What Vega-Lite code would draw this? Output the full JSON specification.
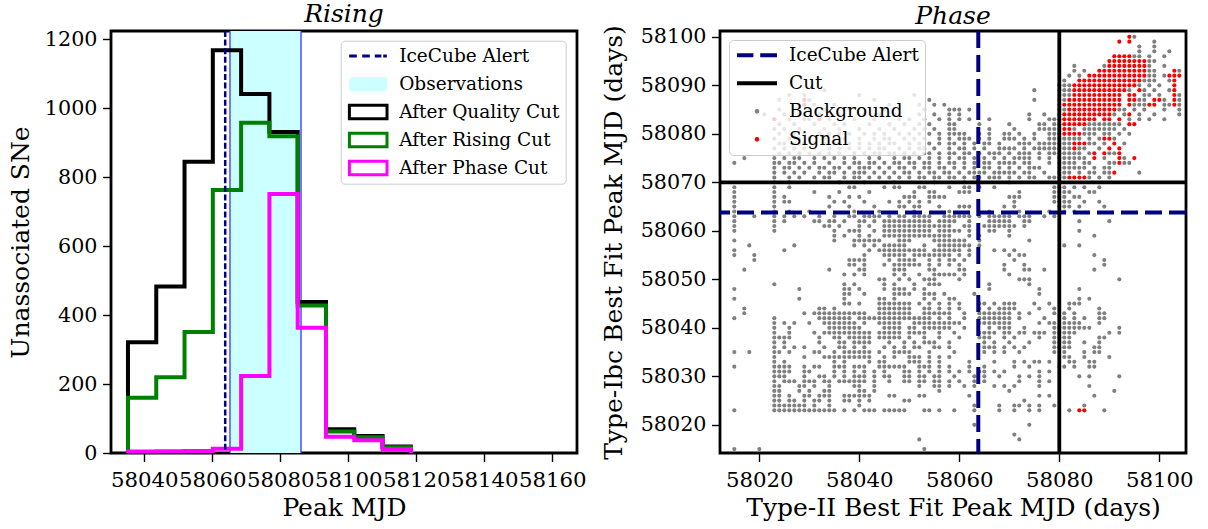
{
"$schema": "https://vega.github.io/schema/vega-lite/v6.json",
"padding": {"left": 7, "top": 0, "right": 0, "bottom": 0},
"bounds": "flush",
"spacing": 143,
"resolve": {"scale": {"color": "independent", "shape": "independent"}, "legend": {"color": "independent", "shape": "independent"}},
"config": {
  "font": "DejaVu Serif",
  "view": {"stroke": "black", "strokeWidth": 2.8},
  "axis": {"grid": false, "domain": false, "tickColor": "black", "tickSize": 8.5, "tickWidth": 1.4, "labelColor": "black", "labelFont": "DejaVu Serif", "labelFontSize": 20.7, "titleFont": "DejaVu Serif", "titleFontSize": 25, "titleFontWeight": "normal", "titleColor": "black", "labelOverlap": false, "labelFlush": false, "labelBound": false},
  "axisX": {"labelPadding": 8, "titlePadding": 5, "labelFontSize": 21.3},
  "axisY": {"labelPadding": 5.5, "titlePadding": 13.5, "labelFontSize": 20.7},
  "title": {"font": "DejaVu Serif", "fontSize": 25, "fontStyle": "italic", "fontWeight": "normal", "color": "black", "anchor": "middle", "frame": "group", "baseline": "alphabetic"},
  "legend": {"orient": "none", "direction": "vertical", "padding": 6, "cornerRadius": 4, "strokeColor": "#cccccc", "fillColor": "rgba(255,255,255,0.8)", "labelFont": "DejaVu Serif", "labelFontSize": 18.5, "labelColor": "black", "symbolSize": 1600, "rowPadding": 9, "symbolOffset": 0, "labelLimit": 400, "clipHeight": 18.5}
},
"datasets": {
  "hq": [{"i":0,"x":58035.2,"n":0},{"i":1,"x":58035.2,"n":321},{"i":2,"x":58043.52,"n":483},{"i":3,"x":58051.84,"n":845},{"i":4,"x":58060.16,"n":1168},{"i":5,"x":58068.48,"n":1041},{"i":6,"x":58076.8,"n":931},{"i":7,"x":58085.12,"n":438},{"i":8,"x":58093.44,"n":69},{"i":9,"x":58101.76,"n":49},{"i":10,"x":58110.08,"n":19},{"i":11,"x":58118.4,"n":19},{"i":12,"x":58118.4,"n":0}],
  "hr": [{"i":0,"x":58035.2,"n":0},{"i":1,"x":58035.2,"n":160},{"i":2,"x":58043.52,"n":220},{"i":3,"x":58051.84,"n":351},{"i":4,"x":58060.16,"n":763},{"i":5,"x":58068.48,"n":958},{"i":6,"x":58076.8,"n":919},{"i":7,"x":58085.12,"n":428},{"i":8,"x":58093.44,"n":62},{"i":9,"x":58101.76,"n":46},{"i":10,"x":58110.08,"n":17},{"i":11,"x":58118.4,"n":17},{"i":12,"x":58118.4,"n":0}],
  "hp": [{"i":0,"x":58035.2,"n":0},{"i":1,"x":58035.2,"n":4},{"i":2,"x":58043.52,"n":5},{"i":3,"x":58051.84,"n":6},{"i":4,"x":58060.16,"n":12},{"i":5,"x":58068.48,"n":223},{"i":6,"x":58076.8,"n":751},{"i":7,"x":58085.12,"n":363},{"i":8,"x":58093.44,"n":47},{"i":9,"x":58101.76,"n":37},{"i":10,"x":58110.08,"n":11},{"i":11,"x":58118.4,"n":11},{"i":12,"x":58118.4,"n":0}],
  "obs": [{"start": 58065.2, "end": 58086.1}],
  "alert": [{"mjd": 58063.8}],
  "cut": [{"x": 58080, "y": 58070}],
  "legL": [{"s":"IceCube Alert","x":null,"y":null},{"s":"Observations","x":null,"y":null},{"s":"After Quality Cut","x":null,"y":null},{"s":"After Rising Cut","x":null,"y":null},{"s":"After Phase Cut","x":null,"y":null}],
  "legR": [{"s":"IceCube Alert","x":null,"y":null},{"s":"Cut","x":null,"y":null},{"s":"Background","x":null,"y":null},{"s":"Signal","x":null,"y":null}],
  "sig": [
{"x":58094,"y":58100},{"x":58092,"y":58099},{"x":58094,"y":58099},
{"x":58091,"y":58096},{"x":58092,"y":58096},{"x":58093,"y":58096},{"x":58094,"y":58096},
{"x":58090,"y":58095},{"x":58091,"y":58095},{"x":58092,"y":58095},{"x":58093,"y":58095},{"x":58094,"y":58095},{"x":58095,"y":58095},{"x":58096,"y":58095},{"x":58097,"y":58095},
{"x":58090,"y":58094},{"x":58091,"y":58094},{"x":58092,"y":58094},{"x":58093,"y":58094},{"x":58094,"y":58094},{"x":58095,"y":58094},{"x":58096,"y":58094},{"x":58097,"y":58094},
{"x":58088,"y":58093},{"x":58089,"y":58093},{"x":58090,"y":58093},{"x":58091,"y":58093},{"x":58092,"y":58093},{"x":58093,"y":58093},{"x":58094,"y":58093},{"x":58095,"y":58093},{"x":58096,"y":58093},{"x":58097,"y":58093},{"x":58103,"y":58093},
{"x":58086,"y":58092},{"x":58087,"y":58092},{"x":58088,"y":58092},{"x":58089,"y":58092},{"x":58090,"y":58092},{"x":58091,"y":58092},{"x":58092,"y":58092},{"x":58093,"y":58092},{"x":58094,"y":58092},{"x":58095,"y":58092},{"x":58096,"y":58092},{"x":58097,"y":58092},{"x":58102,"y":58092},{"x":58103,"y":58092},{"x":58104,"y":58092},
{"x":58084,"y":58091},{"x":58085,"y":58091},{"x":58086,"y":58091},{"x":58087,"y":58091},{"x":58088,"y":58091},{"x":58089,"y":58091},{"x":58090,"y":58091},{"x":58091,"y":58091},{"x":58092,"y":58091},{"x":58093,"y":58091},{"x":58094,"y":58091},{"x":58095,"y":58091},{"x":58096,"y":58091},{"x":58103,"y":58091},
{"x":58083,"y":58090},{"x":58084,"y":58090},{"x":58085,"y":58090},{"x":58086,"y":58090},{"x":58087,"y":58090},{"x":58088,"y":58090},{"x":58089,"y":58090},{"x":58090,"y":58090},{"x":58091,"y":58090},{"x":58092,"y":58090},{"x":58093,"y":58090},{"x":58094,"y":58090},{"x":58095,"y":58090},{"x":58103,"y":58090},
{"x":58083,"y":58089},{"x":58084,"y":58089},{"x":58085,"y":58089},{"x":58086,"y":58089},{"x":58087,"y":58089},{"x":58088,"y":58089},{"x":58089,"y":58089},{"x":58090,"y":58089},{"x":58091,"y":58089},{"x":58092,"y":58089},{"x":58093,"y":58089},{"x":58096,"y":58089},{"x":58103,"y":58089},
{"x":58083,"y":58088},{"x":58084,"y":58088},{"x":58085,"y":58088},{"x":58086,"y":58088},{"x":58087,"y":58088},{"x":58088,"y":58088},{"x":58089,"y":58088},{"x":58090,"y":58088},{"x":58091,"y":58088},{"x":58092,"y":58088},{"x":58094,"y":58088},{"x":58095,"y":58088},{"x":58103,"y":58088},
{"x":58082,"y":58087},{"x":58083,"y":58087},{"x":58084,"y":58087},{"x":58085,"y":58087},{"x":58086,"y":58087},{"x":58087,"y":58087},{"x":58088,"y":58087},{"x":58089,"y":58087},{"x":58090,"y":58087},{"x":58091,"y":58087},{"x":58092,"y":58087},{"x":58094,"y":58087},{"x":58095,"y":58087},{"x":58099,"y":58087},{"x":58100,"y":58087},{"x":58103,"y":58087},
{"x":58081,"y":58086},{"x":58082,"y":58086},{"x":58083,"y":58086},{"x":58084,"y":58086},{"x":58085,"y":58086},{"x":58086,"y":58086},{"x":58087,"y":58086},{"x":58088,"y":58086},{"x":58089,"y":58086},{"x":58090,"y":58086},{"x":58091,"y":58086},{"x":58092,"y":58086},{"x":58094,"y":58086},{"x":58098,"y":58086},{"x":58099,"y":58086},{"x":58103,"y":58086},
{"x":58082,"y":58085},{"x":58083,"y":58085},{"x":58084,"y":58085},{"x":58085,"y":58085},{"x":58086,"y":58085},{"x":58087,"y":58085},{"x":58088,"y":58085},{"x":58089,"y":58085},{"x":58090,"y":58085},{"x":58091,"y":58085},
{"x":58081,"y":58084},{"x":58082,"y":58084},{"x":58083,"y":58084},{"x":58084,"y":58084},{"x":58085,"y":58084},{"x":58086,"y":58084},{"x":58087,"y":58084},{"x":58088,"y":58084},{"x":58089,"y":58084},{"x":58090,"y":58084},{"x":58094,"y":58084},
{"x":58081,"y":58083},{"x":58082,"y":58083},{"x":58083,"y":58083},{"x":58084,"y":58083},{"x":58085,"y":58083},{"x":58086,"y":58083},{"x":58087,"y":58083},{"x":58089,"y":58083},{"x":58090,"y":58083},{"x":58092,"y":58083},
{"x":58081,"y":58082},{"x":58082,"y":58082},{"x":58083,"y":58082},{"x":58084,"y":58082},{"x":58085,"y":58082},{"x":58094,"y":58082},{"x":58095,"y":58082},
{"x":58081,"y":58081},{"x":58082,"y":58081},
{"x":58081,"y":58080},{"x":58082,"y":58080},{"x":58083,"y":58080},{"x":58084,"y":58080},
{"x":58089,"y":58079},{"x":58090,"y":58079},
{"x":58083,"y":58078},{"x":58084,"y":58078},{"x":58085,"y":58078},{"x":58091,"y":58078},
{"x":58083,"y":58077},{"x":58090,"y":58077},{"x":58092,"y":58077},
{"x":58087,"y":58076},{"x":58089,"y":58076},{"x":58092,"y":58076},
{"x":58087,"y":58075},{"x":58092,"y":58075},{"x":58095,"y":58075},
{"x":58092,"y":58074},{"x":58091,"y":58072},
{"x":58082,"y":58071},{"x":58083,"y":58071},{"x":58084,"y":58071},{"x":58085,"y":58071},
{"x":58084,"y":58023},{"x":58085,"y":58023},
{"x":58029,"y":58087},{"x":58029,"y":58086},{"x":58023,"y":58083},{"x":58032,"y":58083},{"x":58029,"y":58078}
  ],
  "bg": [
{"x":58095,"y":58100},{"x":58099,"y":58099},{"x":58096,"y":58098},{"x":58099,"y":58098},
{"x":58096,"y":58097},{"x":58099,"y":58097},{"x":58102,"y":58097},
{"x":58095,"y":58096},{"x":58096,"y":58096},{"x":58098,"y":58096},{"x":58101,"y":58096},
{"x":58098,"y":58095},{"x":58099,"y":58095},
{"x":58083,"y":58094},{"x":58089,"y":58094},{"x":58098,"y":58094},{"x":58101,"y":58094},
{"x":58083,"y":58093},{"x":58085,"y":58093},{"x":58098,"y":58093},{"x":58099,"y":58093},{"x":58104,"y":58093},
{"x":58082,"y":58092},{"x":58084,"y":58092},{"x":58098,"y":58092},{"x":58099,"y":58092},{"x":58101,"y":58092},
{"x":58081,"y":58091},{"x":58097,"y":58091},{"x":58098,"y":58091},{"x":58099,"y":58091},{"x":58102,"y":58091},
{"x":58080,"y":58090},{"x":58081,"y":58090},{"x":58082,"y":58090},{"x":58096,"y":58090},{"x":58098,"y":58090},{"x":58100,"y":58090},
{"x":58033,"y":58089},{"x":58075,"y":58089},{"x":58080,"y":58089},{"x":58081,"y":58089},{"x":58082,"y":58089},{"x":58094,"y":58089},{"x":58097,"y":58089},{"x":58099,"y":58089},{"x":58102,"y":58089},
{"x":58026,"y":58088},{"x":58029,"y":58088},{"x":58040,"y":58088},{"x":58051,"y":58088},{"x":58080,"y":58088},{"x":58081,"y":58088},{"x":58082,"y":58088},{"x":58097,"y":58088},{"x":58098,"y":58088},{"x":58100,"y":58088},{"x":58104,"y":58088},
{"x":58024,"y":58087},{"x":58030,"y":58087},{"x":58043,"y":58087},{"x":58054,"y":58087},{"x":58075,"y":58087},{"x":58080,"y":58087},{"x":58081,"y":58087},{"x":58096,"y":58087},{"x":58097,"y":58087},{"x":58101,"y":58087},{"x":58104,"y":58087},
{"x":58029,"y":58086},{"x":58031,"y":58086},{"x":58035,"y":58086},{"x":58046,"y":58086},{"x":58052,"y":58086},{"x":58055,"y":58086},{"x":58057,"y":58086},{"x":58080,"y":58086},{"x":58095,"y":58086},{"x":58096,"y":58086},{"x":58097,"y":58086},{"x":58101,"y":58086},{"x":58102,"y":58086},{"x":58104,"y":58086},
{"x":58024,"y":58085},{"x":58027,"y":58085},{"x":58030,"y":58085},{"x":58033,"y":58085},{"x":58038,"y":58085},{"x":58045,"y":58085},{"x":58053,"y":58085},{"x":58058,"y":58085},{"x":58059,"y":58085},{"x":58060,"y":58085},{"x":58062,"y":58085},{"x":58080,"y":58085},{"x":58081,"y":58085},{"x":58092,"y":58085},{"x":58093,"y":58085},{"x":58095,"y":58085},{"x":58097,"y":58085},{"x":58101,"y":58085},{"x":58104,"y":58085},
{"x":58021,"y":58084},{"x":58025,"y":58084},{"x":58028,"y":58084},{"x":58032,"y":58084},{"x":58036,"y":58084},{"x":58041,"y":58084},{"x":58044,"y":58084},{"x":58047,"y":58084},{"x":58052,"y":58084},{"x":58055,"y":58084},{"x":58058,"y":58084},{"x":58060,"y":58084},{"x":58074,"y":58084},{"x":58077,"y":58084},{"x":58080,"y":58084},{"x":58091,"y":58084},{"x":58093,"y":58084},{"x":58096,"y":58084},{"x":58099,"y":58084},{"x":58104,"y":58084},
{"x":58023,"y":58083},{"x":58026,"y":58083},{"x":58029,"y":58083},{"x":58030,"y":58083},{"x":58034,"y":58083},{"x":58039,"y":58083},{"x":58043,"y":58083},{"x":58048,"y":58083},{"x":58050,"y":58083},{"x":58053,"y":58083},{"x":58056,"y":58083},{"x":58058,"y":58083},{"x":58060,"y":58083},{"x":58062,"y":58083},{"x":58066,"y":58083},{"x":58074,"y":58083},{"x":58078,"y":58083},{"x":58079,"y":58083},{"x":58080,"y":58083},{"x":58094,"y":58083},{"x":58096,"y":58083},{"x":58098,"y":58083},{"x":58101,"y":58083},
{"x":58024,"y":58082},{"x":58027,"y":58082},{"x":58031,"y":58082},{"x":58035,"y":58082},{"x":58037,"y":58082},{"x":58042,"y":58082},{"x":58046,"y":58082},{"x":58049,"y":58082},{"x":58052,"y":58082},{"x":58054,"y":58082},{"x":58058,"y":58082},{"x":58059,"y":58082},{"x":58064,"y":58082},{"x":58070,"y":58082},{"x":58076,"y":58082},{"x":58077,"y":58082},{"x":58079,"y":58082},{"x":58080,"y":58082},{"x":58086,"y":58082},{"x":58087,"y":58082},{"x":58088,"y":58082},{"x":58089,"y":58082},{"x":58090,"y":58082},{"x":58091,"y":58082},{"x":58092,"y":58082},
{"x":58023,"y":58081},{"x":58025,"y":58081},{"x":58028,"y":58081},{"x":58033,"y":58081},{"x":58036,"y":58081},{"x":58040,"y":58081},{"x":58044,"y":58081},{"x":58047,"y":58081},{"x":58051,"y":58081},{"x":58053,"y":58081},{"x":58055,"y":58081},{"x":58058,"y":58081},{"x":58059,"y":58081},{"x":58066,"y":58081},{"x":58071,"y":58081},{"x":58076,"y":58081},{"x":58077,"y":58081},{"x":58078,"y":58081},{"x":58079,"y":58081},{"x":58080,"y":58081},{"x":58083,"y":58081},{"x":58085,"y":58081},{"x":58086,"y":58081},{"x":58087,"y":58081},{"x":58088,"y":58081},{"x":58089,"y":58081},{"x":58090,"y":58081},{"x":58091,"y":58081},{"x":58093,"y":58081},
{"x":58024,"y":58080},{"x":58027,"y":58080},{"x":58029,"y":58080},{"x":58032,"y":58080},{"x":58034,"y":58080},{"x":58036,"y":58080},{"x":58038,"y":58080},{"x":58041,"y":58080},{"x":58043,"y":58080},{"x":58045,"y":58080},{"x":58048,"y":58080},{"x":58050,"y":58080},{"x":58052,"y":58080},{"x":58054,"y":58080},{"x":58056,"y":58080},{"x":58058,"y":58080},{"x":58059,"y":58080},{"x":58060,"y":58080},{"x":58061,"y":58080},{"x":58064,"y":58080},{"x":58066,"y":58080},{"x":58069,"y":58080},{"x":58070,"y":58080},{"x":58072,"y":58080},{"x":58075,"y":58080},{"x":58078,"y":58080},{"x":58079,"y":58080},{"x":58080,"y":58080},{"x":58085,"y":58080},{"x":58086,"y":58080},{"x":58087,"y":58080},{"x":58089,"y":58080},{"x":58090,"y":58080},{"x":58092,"y":58080},{"x":58094,"y":58080},
{"x":58023,"y":58079},{"x":58026,"y":58079},{"x":58028,"y":58079},{"x":58030,"y":58079},{"x":58033,"y":58079},{"x":58035,"y":58079},{"x":58037,"y":58079},{"x":58040,"y":58079},{"x":58043,"y":58079},{"x":58045,"y":58079},{"x":58046,"y":58079},{"x":58049,"y":58079},{"x":58051,"y":58079},{"x":58053,"y":58079},{"x":58056,"y":58079},{"x":58058,"y":58079},{"x":58060,"y":58079},{"x":58061,"y":58079},{"x":58062,"y":58079},{"x":58064,"y":58079},{"x":58066,"y":58079},{"x":58069,"y":58079},{"x":58070,"y":58079},{"x":58071,"y":58079},{"x":58073,"y":58079},{"x":58075,"y":58079},{"x":58078,"y":58079},{"x":58079,"y":58079},{"x":58080,"y":58079},{"x":58081,"y":58079},{"x":58082,"y":58079},{"x":58083,"y":58079},{"x":58084,"y":58079},{"x":58086,"y":58079},{"x":58088,"y":58079},{"x":58091,"y":58079},
{"x":58024,"y":58078},{"x":58025,"y":58078},{"x":58027,"y":58078},{"x":58028,"y":58078},{"x":58031,"y":58078},{"x":58033,"y":58078},{"x":58035,"y":58078},{"x":58036,"y":58078},{"x":58038,"y":58078},{"x":58040,"y":58078},{"x":58042,"y":58078},{"x":58044,"y":58078},{"x":58046,"y":58078},{"x":58047,"y":58078},{"x":58050,"y":58078},{"x":58052,"y":58078},{"x":58054,"y":58078},{"x":58056,"y":58078},{"x":58058,"y":58078},{"x":58059,"y":58078},{"x":58061,"y":58078},{"x":58063,"y":58078},{"x":58065,"y":58078},{"x":58066,"y":58078},{"x":58068,"y":58078},{"x":58072,"y":58078},{"x":58073,"y":58078},{"x":58074,"y":58078},{"x":58076,"y":58078},{"x":58077,"y":58078},{"x":58078,"y":58078},{"x":58079,"y":58078},{"x":58080,"y":58078},{"x":58081,"y":58078},{"x":58082,"y":58078},{"x":58086,"y":58078},{"x":58087,"y":58078},{"x":58089,"y":58078},{"x":58093,"y":58078},
{"x":58023,"y":58077},{"x":58025,"y":58077},{"x":58027,"y":58077},{"x":58029,"y":58077},{"x":58031,"y":58077},{"x":58034,"y":58077},{"x":58036,"y":58077},{"x":58038,"y":58077},{"x":58040,"y":58077},{"x":58042,"y":58077},{"x":58044,"y":58077},{"x":58045,"y":58077},{"x":58048,"y":58077},{"x":58050,"y":58077},{"x":58052,"y":58077},{"x":58053,"y":58077},{"x":58055,"y":58077},{"x":58058,"y":58077},{"x":58060,"y":58077},{"x":58061,"y":58077},{"x":58063,"y":58077},{"x":58065,"y":58077},{"x":58068,"y":58077},{"x":58069,"y":58077},{"x":58070,"y":58077},{"x":58071,"y":58077},{"x":58073,"y":58077},{"x":58075,"y":58077},{"x":58076,"y":58077},{"x":58077,"y":58077},{"x":58078,"y":58077},{"x":58079,"y":58077},{"x":58080,"y":58077},{"x":58081,"y":58077},{"x":58082,"y":58077},{"x":58084,"y":58077},{"x":58085,"y":58077},{"x":58088,"y":58077},
{"x":58024,"y":58076},{"x":58026,"y":58076},{"x":58028,"y":58076},{"x":58030,"y":58076},{"x":58032,"y":58076},{"x":58034,"y":58076},{"x":58036,"y":58076},{"x":58039,"y":58076},{"x":58041,"y":58076},{"x":58043,"y":58076},{"x":58044,"y":58076},{"x":58046,"y":58076},{"x":58047,"y":58076},{"x":58049,"y":58076},{"x":58051,"y":58076},{"x":58053,"y":58076},{"x":58054,"y":58076},{"x":58056,"y":58076},{"x":58058,"y":58076},{"x":58059,"y":58076},{"x":58061,"y":58076},{"x":58062,"y":58076},{"x":58064,"y":58076},{"x":58066,"y":58076},{"x":58067,"y":58076},{"x":58068,"y":58076},{"x":58070,"y":58076},{"x":58072,"y":58076},{"x":58073,"y":58076},{"x":58074,"y":58076},{"x":58076,"y":58076},{"x":58078,"y":58076},{"x":58079,"y":58076},{"x":58080,"y":58076},{"x":58081,"y":58076},{"x":58082,"y":58076},{"x":58083,"y":58076},{"x":58084,"y":58076},{"x":58086,"y":58076},{"x":58090,"y":58076},{"x":58091,"y":58076},
{"x":58017,"y":58075},{"x":58023,"y":58075},{"x":58025,"y":58075},{"x":58027,"y":58075},{"x":58028,"y":58075},{"x":58031,"y":58075},{"x":58033,"y":58075},{"x":58035,"y":58075},{"x":58037,"y":58075},{"x":58039,"y":58075},{"x":58042,"y":58075},{"x":58044,"y":58075},{"x":58047,"y":58075},{"x":58049,"y":58075},{"x":58050,"y":58075},{"x":58052,"y":58075},{"x":58054,"y":58075},{"x":58056,"y":58075},{"x":58058,"y":58075},{"x":58060,"y":58075},{"x":58061,"y":58075},{"x":58063,"y":58075},{"x":58065,"y":58075},{"x":58067,"y":58075},{"x":58069,"y":58075},{"x":58071,"y":58075},{"x":58072,"y":58075},{"x":58073,"y":58075},{"x":58074,"y":58075},{"x":58076,"y":58075},{"x":58078,"y":58075},{"x":58080,"y":58075},{"x":58081,"y":58075},{"x":58082,"y":58075},{"x":58083,"y":58075},{"x":58084,"y":58075},{"x":58085,"y":58075},{"x":58089,"y":58075},{"x":58093,"y":58075},
{"x":58015,"y":58074},{"x":58023,"y":58074},{"x":58024,"y":58074},{"x":58026,"y":58074},{"x":58027,"y":58074},{"x":58029,"y":58074},{"x":58031,"y":58074},{"x":58034,"y":58074},{"x":58037,"y":58074},{"x":58039,"y":58074},{"x":58040,"y":58074},{"x":58042,"y":58074},{"x":58043,"y":58074},{"x":58045,"y":58074},{"x":58047,"y":58074},{"x":58048,"y":58074},{"x":58050,"y":58074},{"x":58051,"y":58074},{"x":58053,"y":58074},{"x":58054,"y":58074},{"x":58056,"y":58074},{"x":58058,"y":58074},{"x":58059,"y":58074},{"x":58061,"y":58074},{"x":58063,"y":58074},{"x":58065,"y":58074},{"x":58066,"y":58074},{"x":58068,"y":58074},{"x":58069,"y":58074},{"x":58070,"y":58074},{"x":58071,"y":58074},{"x":58073,"y":58074},{"x":58074,"y":58074},{"x":58078,"y":58074},{"x":58080,"y":58074},{"x":58081,"y":58074},{"x":58082,"y":58074},{"x":58083,"y":58074},{"x":58085,"y":58074},{"x":58086,"y":58074},{"x":58090,"y":58074},{"x":58091,"y":58074},{"x":58093,"y":58074},{"x":58094,"y":58074},
{"x":58023,"y":58073},{"x":58025,"y":58073},{"x":58026,"y":58073},{"x":58028,"y":58073},{"x":58030,"y":58073},{"x":58032,"y":58073},{"x":58033,"y":58073},{"x":58035,"y":58073},{"x":58036,"y":58073},{"x":58038,"y":58073},{"x":58040,"y":58073},{"x":58041,"y":58073},{"x":58042,"y":58073},{"x":58044,"y":58073},{"x":58046,"y":58073},{"x":58048,"y":58073},{"x":58049,"y":58073},{"x":58051,"y":58073},{"x":58053,"y":58073},{"x":58054,"y":58073},{"x":58056,"y":58073},{"x":58057,"y":58073},{"x":58059,"y":58073},{"x":58061,"y":58073},{"x":58063,"y":58073},{"x":58065,"y":58073},{"x":58066,"y":58073},{"x":58068,"y":58073},{"x":58070,"y":58073},{"x":58072,"y":58073},{"x":58074,"y":58073},{"x":58075,"y":58073},{"x":58076,"y":58073},{"x":58080,"y":58073},{"x":58081,"y":58073},{"x":58082,"y":58073},{"x":58083,"y":58073},{"x":58084,"y":58073},{"x":58085,"y":58073},{"x":58087,"y":58073},{"x":58089,"y":58073},{"x":58090,"y":58073},
{"x":58023,"y":58072},{"x":58025,"y":58072},{"x":58027,"y":58072},{"x":58029,"y":58072},{"x":58032,"y":58072},{"x":58034,"y":58072},{"x":58035,"y":58072},{"x":58037,"y":58072},{"x":58039,"y":58072},{"x":58040,"y":58072},{"x":58041,"y":58072},{"x":58043,"y":58072},{"x":58045,"y":58072},{"x":58047,"y":58072},{"x":58049,"y":58072},{"x":58050,"y":58072},{"x":58052,"y":58072},{"x":58054,"y":58072},{"x":58055,"y":58072},{"x":58057,"y":58072},{"x":58058,"y":58072},{"x":58060,"y":58072},{"x":58062,"y":58072},{"x":58063,"y":58072},{"x":58064,"y":58072},{"x":58065,"y":58072},{"x":58067,"y":58072},{"x":58068,"y":58072},{"x":58069,"y":58072},{"x":58070,"y":58072},{"x":58071,"y":58072},{"x":58073,"y":58072},{"x":58074,"y":58072},{"x":58077,"y":58072},{"x":58080,"y":58072},{"x":58081,"y":58072},{"x":58082,"y":58072},{"x":58084,"y":58072},{"x":58086,"y":58072},{"x":58087,"y":58072},{"x":58089,"y":58072},{"x":58090,"y":58072},{"x":58096,"y":58072},
{"x":58023,"y":58071},{"x":58026,"y":58071},{"x":58028,"y":58071},{"x":58031,"y":58071},{"x":58033,"y":58071},{"x":58034,"y":58071},{"x":58037,"y":58071},{"x":58039,"y":58071},{"x":58040,"y":58071},{"x":58042,"y":58071},{"x":58044,"y":58071},{"x":58046,"y":58071},{"x":58048,"y":58071},{"x":58050,"y":58071},{"x":58052,"y":58071},{"x":58053,"y":58071},{"x":58055,"y":58071},{"x":58056,"y":58071},{"x":58058,"y":58071},{"x":58059,"y":58071},{"x":58061,"y":58071},{"x":58063,"y":58071},{"x":58064,"y":58071},{"x":58066,"y":58071},{"x":58067,"y":58071},{"x":58068,"y":58071},{"x":58070,"y":58071},{"x":58072,"y":58071},{"x":58074,"y":58071},{"x":58075,"y":58071},{"x":58078,"y":58071},{"x":58079,"y":58071},{"x":58080,"y":58071},{"x":58081,"y":58071},{"x":58086,"y":58071},{"x":58088,"y":58071},{"x":58090,"y":58071},
{"x":58023,"y":58070},{"x":58026,"y":58070},{"x":58036,"y":58070},{"x":58041,"y":58070},{"x":58047,"y":58070},{"x":58055,"y":58070},{"x":58061,"y":58070},{"x":58070,"y":58070},
{"x":58015,"y":58069},{"x":58023,"y":58069},{"x":58026,"y":58069},{"x":58038,"y":58069},{"x":58039,"y":58069},{"x":58045,"y":58069},{"x":58047,"y":58069},{"x":58048,"y":58069},{"x":58052,"y":58069},{"x":58053,"y":58069},{"x":58058,"y":58069},{"x":58061,"y":58069},{"x":58062,"y":58069},{"x":58064,"y":58069},{"x":58067,"y":58069},{"x":58079,"y":58069},{"x":58080,"y":58069},{"x":58081,"y":58069},{"x":58083,"y":58069},{"x":58085,"y":58069},{"x":58088,"y":58069},
{"x":58015,"y":58068},{"x":58023,"y":58068},{"x":58031,"y":58068},{"x":58036,"y":58068},{"x":58042,"y":58068},{"x":58051,"y":58068},{"x":58054,"y":58068},{"x":58055,"y":58068},{"x":58060,"y":58068},{"x":58061,"y":58068},{"x":58062,"y":58068},{"x":58072,"y":58068},{"x":58079,"y":58068},{"x":58080,"y":58068},{"x":58081,"y":58068},{"x":58082,"y":58068},{"x":58086,"y":58068},{"x":58087,"y":58068},
{"x":58015,"y":58067},{"x":58023,"y":58067},{"x":58025,"y":58067},{"x":58034,"y":58067},{"x":58038,"y":58067},{"x":58040,"y":58067},{"x":58049,"y":58067},{"x":58050,"y":58067},{"x":58051,"y":58067},{"x":58054,"y":58067},{"x":58055,"y":58067},{"x":58056,"y":58067},{"x":58057,"y":58067},{"x":58070,"y":58067},{"x":58071,"y":58067},{"x":58072,"y":58067},{"x":58079,"y":58067},{"x":58080,"y":58067},{"x":58081,"y":58067},{"x":58083,"y":58067},{"x":58084,"y":58067},
{"x":58015,"y":58066},{"x":58023,"y":58066},{"x":58025,"y":58066},{"x":58026,"y":58066},{"x":58035,"y":58066},{"x":58037,"y":58066},{"x":58041,"y":58066},{"x":58046,"y":58066},{"x":58048,"y":58066},{"x":58050,"y":58066},{"x":58052,"y":58066},{"x":58054,"y":58066},{"x":58071,"y":58066},{"x":58079,"y":58066},{"x":58080,"y":58066},{"x":58081,"y":58066},{"x":58082,"y":58066},{"x":58085,"y":58066},{"x":58088,"y":58066},
{"x":58015,"y":58065},{"x":58023,"y":58065},{"x":58034,"y":58065},{"x":58038,"y":58065},{"x":58043,"y":58065},{"x":58048,"y":58065},{"x":58049,"y":58065},{"x":58051,"y":58065},{"x":58052,"y":58065},{"x":58056,"y":58065},{"x":58060,"y":58065},{"x":58061,"y":58065},{"x":58062,"y":58065},{"x":58069,"y":58065},{"x":58071,"y":58065},{"x":58080,"y":58065},{"x":58081,"y":58065},{"x":58082,"y":58065},{"x":58084,"y":58065},{"x":58089,"y":58065},
{"x":58015,"y":58064},{"x":58023,"y":58064},{"x":58026,"y":58064},{"x":58030,"y":58064},{"x":58039,"y":58064},{"x":58044,"y":58064},{"x":58051,"y":58064},{"x":58058,"y":58064},{"x":58066,"y":58064},{"x":58072,"y":58064},{"x":58078,"y":58064},{"x":58081,"y":58064},{"x":58083,"y":58064},
{"x":58015,"y":58063},{"x":58019,"y":58063},{"x":58023,"y":58063},{"x":58025,"y":58063},{"x":58027,"y":58063},{"x":58029,"y":58063},{"x":58032,"y":58063},{"x":58035,"y":58063},{"x":58038,"y":58063},{"x":58039,"y":58063},{"x":58041,"y":58063},{"x":58042,"y":58063},{"x":58043,"y":58063},{"x":58044,"y":58063},{"x":58046,"y":58063},{"x":58048,"y":58063},{"x":58049,"y":58063},{"x":58051,"y":58063},{"x":58052,"y":58063},{"x":58053,"y":58063},{"x":58054,"y":58063},{"x":58057,"y":58063},{"x":58058,"y":58063},{"x":58059,"y":58063},{"x":58060,"y":58063},{"x":58061,"y":58063},{"x":58062,"y":58063},{"x":58064,"y":58063},{"x":58066,"y":58063},{"x":58067,"y":58063},{"x":58068,"y":58063},{"x":58069,"y":58063},{"x":58070,"y":58063},{"x":58072,"y":58063},{"x":58073,"y":58063},{"x":58074,"y":58063},{"x":58077,"y":58063},{"x":58079,"y":58063},
{"x":58015,"y":58062},{"x":58023,"y":58062},{"x":58025,"y":58062},{"x":58031,"y":58062},{"x":58032,"y":58062},{"x":58034,"y":58062},{"x":58035,"y":58062},{"x":58037,"y":58062},{"x":58040,"y":58062},{"x":58041,"y":58062},{"x":58043,"y":58062},{"x":58045,"y":58062},{"x":58046,"y":58062},{"x":58047,"y":58062},{"x":58048,"y":58062},{"x":58049,"y":58062},{"x":58050,"y":58062},{"x":58051,"y":58062},{"x":58052,"y":58062},{"x":58053,"y":58062},{"x":58054,"y":58062},{"x":58056,"y":58062},{"x":58057,"y":58062},{"x":58058,"y":58062},{"x":58059,"y":58062},{"x":58062,"y":58062},{"x":58066,"y":58062},{"x":58067,"y":58062},{"x":58068,"y":58062},{"x":58069,"y":58062},{"x":58070,"y":58062},{"x":58073,"y":58062},{"x":58074,"y":58062},{"x":58084,"y":58062},{"x":58090,"y":58062},
{"x":58015,"y":58061},{"x":58023,"y":58061},{"x":58033,"y":58061},{"x":58034,"y":58061},{"x":58036,"y":58061},{"x":58040,"y":58061},{"x":58042,"y":58061},{"x":58045,"y":58061},{"x":58046,"y":58061},{"x":58047,"y":58061},{"x":58048,"y":58061},{"x":58049,"y":58061},{"x":58050,"y":58061},{"x":58051,"y":58061},{"x":58052,"y":58061},{"x":58053,"y":58061},{"x":58054,"y":58061},{"x":58055,"y":58061},{"x":58056,"y":58061},{"x":58057,"y":58061},{"x":58058,"y":58061},{"x":58061,"y":58061},{"x":58062,"y":58061},{"x":58065,"y":58061},{"x":58066,"y":58061},{"x":58067,"y":58061},{"x":58068,"y":58061},{"x":58069,"y":58061},{"x":58070,"y":58061},{"x":58071,"y":58061},{"x":58073,"y":58061},
{"x":58015,"y":58060},{"x":58023,"y":58060},{"x":58035,"y":58060},{"x":58038,"y":58060},{"x":58039,"y":58060},{"x":58040,"y":58060},{"x":58043,"y":58060},{"x":58045,"y":58060},{"x":58046,"y":58060},{"x":58047,"y":58060},{"x":58048,"y":58060},{"x":58049,"y":58060},{"x":58050,"y":58060},{"x":58051,"y":58060},{"x":58052,"y":58060},{"x":58053,"y":58060},{"x":58054,"y":58060},{"x":58056,"y":58060},{"x":58057,"y":58060},{"x":58058,"y":58060},{"x":58059,"y":58060},{"x":58060,"y":58060},{"x":58062,"y":58060},{"x":58066,"y":58060},{"x":58067,"y":58060},{"x":58070,"y":58060},{"x":58084,"y":58060},
{"x":58035,"y":58059},{"x":58037,"y":58059},{"x":58040,"y":58059},{"x":58042,"y":58059},{"x":58045,"y":58059},{"x":58046,"y":58059},{"x":58047,"y":58059},{"x":58048,"y":58059},{"x":58049,"y":58059},{"x":58050,"y":58059},{"x":58051,"y":58059},{"x":58052,"y":58059},{"x":58053,"y":58059},{"x":58054,"y":58059},{"x":58055,"y":58059},{"x":58056,"y":58059},{"x":58057,"y":58059},{"x":58058,"y":58059},{"x":58062,"y":58059},{"x":58064,"y":58059},{"x":58070,"y":58059},{"x":58087,"y":58059},
{"x":58015,"y":58058},{"x":58035,"y":58058},{"x":58039,"y":58058},{"x":58040,"y":58058},{"x":58041,"y":58058},{"x":58042,"y":58058},{"x":58043,"y":58058},{"x":58044,"y":58058},{"x":58048,"y":58058},{"x":58049,"y":58058},{"x":58050,"y":58058},{"x":58055,"y":58058},{"x":58056,"y":58058},{"x":58057,"y":58058},{"x":58058,"y":58058},{"x":58059,"y":58058},{"x":58060,"y":58058},{"x":58061,"y":58058},{"x":58064,"y":58058},{"x":58074,"y":58058},
{"x":58018,"y":58057},{"x":58027,"y":58057},{"x":58039,"y":58057},{"x":58041,"y":58057},{"x":58043,"y":58057},{"x":58045,"y":58057},{"x":58046,"y":58057},{"x":58047,"y":58057},{"x":58048,"y":58057},{"x":58049,"y":58057},{"x":58053,"y":58057},{"x":58056,"y":58057},{"x":58057,"y":58057},{"x":58058,"y":58057},{"x":58059,"y":58057},{"x":58060,"y":58057},{"x":58061,"y":58057},{"x":58062,"y":58057},{"x":58064,"y":58057},{"x":58081,"y":58057},{"x":58084,"y":58057},
{"x":58015,"y":58056},{"x":58025,"y":58056},{"x":58042,"y":58056},{"x":58044,"y":58056},{"x":58045,"y":58056},{"x":58046,"y":58056},{"x":58047,"y":58056},{"x":58048,"y":58056},{"x":58049,"y":58056},{"x":58050,"y":58056},{"x":58051,"y":58056},{"x":58052,"y":58056},{"x":58053,"y":58056},{"x":58055,"y":58056},{"x":58056,"y":58056},{"x":58057,"y":58056},{"x":58058,"y":58056},{"x":58059,"y":58056},{"x":58060,"y":58056},{"x":58062,"y":58056},{"x":58067,"y":58056},{"x":58069,"y":58056},{"x":58071,"y":58056},
{"x":58015,"y":58055},{"x":58019,"y":58055},{"x":58041,"y":58055},{"x":58045,"y":58055},{"x":58046,"y":58055},{"x":58047,"y":58055},{"x":58048,"y":58055},{"x":58049,"y":58055},{"x":58051,"y":58055},{"x":58052,"y":58055},{"x":58053,"y":58055},{"x":58054,"y":58055},{"x":58055,"y":58055},{"x":58056,"y":58055},{"x":58057,"y":58055},{"x":58058,"y":58055},{"x":58060,"y":58055},{"x":58062,"y":58055},{"x":58070,"y":58055},{"x":58072,"y":58055},{"x":58073,"y":58055},{"x":58087,"y":58055},
{"x":58019,"y":58054},{"x":58038,"y":58054},{"x":58039,"y":58054},{"x":58040,"y":58054},{"x":58041,"y":58054},{"x":58046,"y":58054},{"x":58048,"y":58054},{"x":58049,"y":58054},{"x":58050,"y":58054},{"x":58051,"y":58054},{"x":58054,"y":58054},{"x":58056,"y":58054},{"x":58058,"y":58054},{"x":58059,"y":58054},{"x":58061,"y":58054},{"x":58071,"y":58054},{"x":58089,"y":58054},
{"x":58038,"y":58053},{"x":58039,"y":58053},{"x":58041,"y":58053},{"x":58045,"y":58053},{"x":58047,"y":58053},{"x":58048,"y":58053},{"x":58049,"y":58053},{"x":58050,"y":58053},{"x":58051,"y":58053},{"x":58052,"y":58053},{"x":58054,"y":58053},{"x":58056,"y":58053},{"x":58058,"y":58053},{"x":58060,"y":58053},{"x":58069,"y":58053},{"x":58073,"y":58053},{"x":58089,"y":58053},
{"x":58017,"y":58052},{"x":58034,"y":58052},{"x":58040,"y":58052},{"x":58041,"y":58052},{"x":58047,"y":58052},{"x":58048,"y":58052},{"x":58049,"y":58052},{"x":58054,"y":58052},{"x":58055,"y":58052},{"x":58060,"y":58052},{"x":58061,"y":58052},{"x":58069,"y":58052},{"x":58073,"y":58052},{"x":58074,"y":58052},{"x":58077,"y":58052},{"x":58087,"y":58052},
{"x":58037,"y":58051},{"x":58039,"y":58051},{"x":58041,"y":58051},{"x":58047,"y":58051},{"x":58049,"y":58051},{"x":58052,"y":58051},{"x":58055,"y":58051},{"x":58056,"y":58051},{"x":58057,"y":58051},{"x":58058,"y":58051},{"x":58059,"y":58051},{"x":58061,"y":58051},{"x":58070,"y":58051},
{"x":58044,"y":58050},{"x":58045,"y":58050},{"x":58048,"y":58050},{"x":58050,"y":58050},{"x":58053,"y":58050},{"x":58054,"y":58050},{"x":58055,"y":58050},{"x":58060,"y":58050},{"x":58072,"y":58050},{"x":58073,"y":58050},{"x":58074,"y":58050},{"x":58092,"y":58050},
{"x":58023,"y":58049},{"x":58037,"y":58049},{"x":58039,"y":58049},{"x":58045,"y":58049},{"x":58047,"y":58049},{"x":58051,"y":58049},{"x":58054,"y":58049},{"x":58055,"y":58049},{"x":58056,"y":58049},{"x":58066,"y":58049},{"x":58074,"y":58049},
{"x":58015,"y":58048},{"x":58028,"y":58048},{"x":58037,"y":58048},{"x":58038,"y":58048},{"x":58040,"y":58048},{"x":58045,"y":58048},{"x":58047,"y":58048},{"x":58048,"y":58048},{"x":58049,"y":58048},{"x":58051,"y":58048},{"x":58053,"y":58048},{"x":58066,"y":58048},{"x":58076,"y":58048},{"x":58084,"y":58048},
{"x":58037,"y":58047},{"x":58038,"y":58047},{"x":58041,"y":58047},{"x":58047,"y":58047},{"x":58048,"y":58047},{"x":58049,"y":58047},{"x":58050,"y":58047},{"x":58053,"y":58047},{"x":58054,"y":58047},{"x":58055,"y":58047},{"x":58057,"y":58047},{"x":58063,"y":58047},{"x":58076,"y":58047},
{"x":58015,"y":58046},{"x":58028,"y":58046},{"x":58037,"y":58046},{"x":58044,"y":58046},{"x":58045,"y":58046},{"x":58047,"y":58046},{"x":58053,"y":58046},{"x":58055,"y":58046},{"x":58058,"y":58046},{"x":58059,"y":58046},{"x":58084,"y":58046},{"x":58086,"y":58046},
{"x":58037,"y":58045},{"x":58038,"y":58045},{"x":58040,"y":58045},{"x":58044,"y":58045},{"x":58045,"y":58045},{"x":58046,"y":58045},{"x":58047,"y":58045},{"x":58048,"y":58045},{"x":58049,"y":58045},{"x":58050,"y":58045},{"x":58052,"y":58045},{"x":58054,"y":58045},{"x":58056,"y":58045},{"x":58058,"y":58045},{"x":58060,"y":58045},{"x":58064,"y":58045},{"x":58065,"y":58045},{"x":58067,"y":58045},{"x":58069,"y":58045},{"x":58070,"y":58045},{"x":58071,"y":58045},{"x":58075,"y":58045},{"x":58078,"y":58045},{"x":58082,"y":58045},{"x":58083,"y":58045},{"x":58084,"y":58045},
{"x":58017,"y":58044},{"x":58032,"y":58044},{"x":58033,"y":58044},{"x":58035,"y":58044},{"x":58044,"y":58044},{"x":58045,"y":58044},{"x":58046,"y":58044},{"x":58047,"y":58044},{"x":58048,"y":58044},{"x":58049,"y":58044},{"x":58050,"y":58044},{"x":58053,"y":58044},{"x":58054,"y":58044},{"x":58056,"y":58044},{"x":58058,"y":58044},{"x":58060,"y":58044},{"x":58064,"y":58044},{"x":58066,"y":58044},{"x":58068,"y":58044},{"x":58069,"y":58044},{"x":58070,"y":58044},{"x":58071,"y":58044},{"x":58076,"y":58044},{"x":58079,"y":58044},{"x":58082,"y":58044},{"x":58088,"y":58044},
{"x":58017,"y":58043},{"x":58029,"y":58043},{"x":58031,"y":58043},{"x":58032,"y":58043},{"x":58033,"y":58043},{"x":58034,"y":58043},{"x":58035,"y":58043},{"x":58036,"y":58043},{"x":58037,"y":58043},{"x":58038,"y":58043},{"x":58039,"y":58043},{"x":58040,"y":58043},{"x":58041,"y":58043},{"x":58044,"y":58043},{"x":58045,"y":58043},{"x":58046,"y":58043},{"x":58047,"y":58043},{"x":58048,"y":58043},{"x":58049,"y":58043},{"x":58050,"y":58043},{"x":58053,"y":58043},{"x":58054,"y":58043},{"x":58055,"y":58043},{"x":58056,"y":58043},{"x":58057,"y":58043},{"x":58058,"y":58043},{"x":58061,"y":58043},{"x":58064,"y":58043},{"x":58065,"y":58043},{"x":58066,"y":58043},{"x":58067,"y":58043},{"x":58068,"y":58043},{"x":58069,"y":58043},{"x":58070,"y":58043},{"x":58072,"y":58043},{"x":58074,"y":58043},{"x":58079,"y":58043},{"x":58081,"y":58043},{"x":58083,"y":58043},{"x":58088,"y":58043},{"x":58089,"y":58043},
{"x":58015,"y":58042},{"x":58023,"y":58042},{"x":58032,"y":58042},{"x":58033,"y":58042},{"x":58034,"y":58042},{"x":58035,"y":58042},{"x":58036,"y":58042},{"x":58037,"y":58042},{"x":58038,"y":58042},{"x":58040,"y":58042},{"x":58041,"y":58042},{"x":58042,"y":58042},{"x":58043,"y":58042},{"x":58044,"y":58042},{"x":58045,"y":58042},{"x":58046,"y":58042},{"x":58047,"y":58042},{"x":58048,"y":58042},{"x":58049,"y":58042},{"x":58050,"y":58042},{"x":58051,"y":58042},{"x":58052,"y":58042},{"x":58053,"y":58042},{"x":58054,"y":58042},{"x":58056,"y":58042},{"x":58058,"y":58042},{"x":58061,"y":58042},{"x":58064,"y":58042},{"x":58065,"y":58042},{"x":58066,"y":58042},{"x":58067,"y":58042},{"x":58068,"y":58042},{"x":58069,"y":58042},{"x":58070,"y":58042},{"x":58072,"y":58042},{"x":58077,"y":58042},{"x":58081,"y":58042},{"x":58083,"y":58042},{"x":58085,"y":58042},{"x":58088,"y":58042},{"x":58089,"y":58042},
{"x":58023,"y":58041},{"x":58025,"y":58041},{"x":58027,"y":58041},{"x":58030,"y":58041},{"x":58033,"y":58041},{"x":58034,"y":58041},{"x":58035,"y":58041},{"x":58036,"y":58041},{"x":58037,"y":58041},{"x":58038,"y":58041},{"x":58039,"y":58041},{"x":58041,"y":58041},{"x":58044,"y":58041},{"x":58045,"y":58041},{"x":58046,"y":58041},{"x":58047,"y":58041},{"x":58048,"y":58041},{"x":58051,"y":58041},{"x":58052,"y":58041},{"x":58053,"y":58041},{"x":58054,"y":58041},{"x":58055,"y":58041},{"x":58056,"y":58041},{"x":58057,"y":58041},{"x":58058,"y":58041},{"x":58059,"y":58041},{"x":58060,"y":58041},{"x":58064,"y":58041},{"x":58065,"y":58041},{"x":58066,"y":58041},{"x":58067,"y":58041},{"x":58068,"y":58041},{"x":58069,"y":58041},{"x":58070,"y":58041},{"x":58076,"y":58041},{"x":58078,"y":58041},{"x":58079,"y":58041},{"x":58081,"y":58041},{"x":58082,"y":58041},{"x":58083,"y":58041},{"x":58084,"y":58041},{"x":58088,"y":58041},
{"x":58023,"y":58040},{"x":58026,"y":58040},{"x":58034,"y":58040},{"x":58035,"y":58040},{"x":58036,"y":58040},{"x":58037,"y":58040},{"x":58038,"y":58040},{"x":58039,"y":58040},{"x":58040,"y":58040},{"x":58045,"y":58040},{"x":58046,"y":58040},{"x":58047,"y":58040},{"x":58048,"y":58040},{"x":58050,"y":58040},{"x":58051,"y":58040},{"x":58053,"y":58040},{"x":58054,"y":58040},{"x":58055,"y":58040},{"x":58056,"y":58040},{"x":58057,"y":58040},{"x":58058,"y":58040},{"x":58061,"y":58040},{"x":58066,"y":58040},{"x":58068,"y":58040},{"x":58069,"y":58040},{"x":58070,"y":58040},{"x":58073,"y":58040},{"x":58079,"y":58040},{"x":58080,"y":58040},{"x":58081,"y":58040},{"x":58082,"y":58040},{"x":58083,"y":58040},{"x":58084,"y":58040},{"x":58085,"y":58040},{"x":58086,"y":58040},{"x":58092,"y":58040},
{"x":58023,"y":58039},{"x":58026,"y":58039},{"x":58031,"y":58039},{"x":58033,"y":58039},{"x":58034,"y":58039},{"x":58035,"y":58039},{"x":58036,"y":58039},{"x":58037,"y":58039},{"x":58038,"y":58039},{"x":58039,"y":58039},{"x":58040,"y":58039},{"x":58041,"y":58039},{"x":58042,"y":58039},{"x":58044,"y":58039},{"x":58045,"y":58039},{"x":58046,"y":58039},{"x":58047,"y":58039},{"x":58048,"y":58039},{"x":58050,"y":58039},{"x":58051,"y":58039},{"x":58052,"y":58039},{"x":58053,"y":58039},{"x":58056,"y":58039},{"x":58059,"y":58039},{"x":58064,"y":58039},{"x":58065,"y":58039},{"x":58066,"y":58039},{"x":58067,"y":58039},{"x":58069,"y":58039},{"x":58070,"y":58039},{"x":58072,"y":58039},{"x":58073,"y":58039},{"x":58075,"y":58039},{"x":58076,"y":58039},{"x":58077,"y":58039},{"x":58079,"y":58039},{"x":58080,"y":58039},{"x":58081,"y":58039},{"x":58082,"y":58039},{"x":58083,"y":58039},{"x":58090,"y":58039},{"x":58092,"y":58039},
{"x":58023,"y":58038},{"x":58024,"y":58038},{"x":58025,"y":58038},{"x":58026,"y":58038},{"x":58032,"y":58038},{"x":58035,"y":58038},{"x":58036,"y":58038},{"x":58038,"y":58038},{"x":58039,"y":58038},{"x":58040,"y":58038},{"x":58041,"y":58038},{"x":58042,"y":58038},{"x":58044,"y":58038},{"x":58045,"y":58038},{"x":58046,"y":58038},{"x":58047,"y":58038},{"x":58048,"y":58038},{"x":58050,"y":58038},{"x":58053,"y":58038},{"x":58056,"y":58038},{"x":58060,"y":58038},{"x":58064,"y":58038},{"x":58065,"y":58038},{"x":58066,"y":58038},{"x":58069,"y":58038},{"x":58071,"y":58038},{"x":58076,"y":58038},{"x":58079,"y":58038},{"x":58080,"y":58038},{"x":58081,"y":58038},{"x":58082,"y":58038},{"x":58088,"y":58038},{"x":58089,"y":58038},
{"x":58023,"y":58037},{"x":58025,"y":58037},{"x":58032,"y":58037},{"x":58036,"y":58037},{"x":58037,"y":58037},{"x":58039,"y":58037},{"x":58040,"y":58037},{"x":58041,"y":58037},{"x":58042,"y":58037},{"x":58046,"y":58037},{"x":58049,"y":58037},{"x":58051,"y":58037},{"x":58053,"y":58037},{"x":58054,"y":58037},{"x":58055,"y":58037},{"x":58058,"y":58037},{"x":58065,"y":58037},{"x":58067,"y":58037},{"x":58070,"y":58037},{"x":58074,"y":58037},{"x":58079,"y":58037},{"x":58080,"y":58037},{"x":58081,"y":58037},{"x":58082,"y":58037},{"x":58085,"y":58037},{"x":58088,"y":58037},
{"x":58023,"y":58036},{"x":58025,"y":58036},{"x":58027,"y":58036},{"x":58029,"y":58036},{"x":58033,"y":58036},{"x":58036,"y":58036},{"x":58037,"y":58036},{"x":58039,"y":58036},{"x":58041,"y":58036},{"x":58045,"y":58036},{"x":58047,"y":58036},{"x":58049,"y":58036},{"x":58051,"y":58036},{"x":58052,"y":58036},{"x":58055,"y":58036},{"x":58056,"y":58036},{"x":58058,"y":58036},{"x":58065,"y":58036},{"x":58066,"y":58036},{"x":58067,"y":58036},{"x":58069,"y":58036},{"x":58071,"y":58036},{"x":58073,"y":58036},{"x":58079,"y":58036},{"x":58080,"y":58036},{"x":58081,"y":58036},{"x":58082,"y":58036},{"x":58087,"y":58036},{"x":58088,"y":58036},
{"x":58015,"y":58035},{"x":58018,"y":58035},{"x":58023,"y":58035},{"x":58024,"y":58035},{"x":58026,"y":58035},{"x":58031,"y":58035},{"x":58032,"y":58035},{"x":58035,"y":58035},{"x":58037,"y":58035},{"x":58038,"y":58035},{"x":58039,"y":58035},{"x":58040,"y":58035},{"x":58041,"y":58035},{"x":58042,"y":58035},{"x":58044,"y":58035},{"x":58047,"y":58035},{"x":58048,"y":58035},{"x":58049,"y":58035},{"x":58050,"y":58035},{"x":58054,"y":58035},{"x":58059,"y":58035},{"x":58065,"y":58035},{"x":58067,"y":58035},{"x":58069,"y":58035},{"x":58072,"y":58035},{"x":58079,"y":58035},{"x":58081,"y":58035},{"x":58085,"y":58035},{"x":58087,"y":58035},{"x":58088,"y":58035},
{"x":58023,"y":58034},{"x":58029,"y":58034},{"x":58033,"y":58034},{"x":58034,"y":58034},{"x":58035,"y":58034},{"x":58036,"y":58034},{"x":58037,"y":58034},{"x":58038,"y":58034},{"x":58039,"y":58034},{"x":58040,"y":58034},{"x":58041,"y":58034},{"x":58042,"y":58034},{"x":58045,"y":58034},{"x":58047,"y":58034},{"x":58050,"y":58034},{"x":58051,"y":58034},{"x":58052,"y":58034},{"x":58054,"y":58034},{"x":58056,"y":58034},{"x":58058,"y":58034},{"x":58081,"y":58034},{"x":58082,"y":58034},{"x":58085,"y":58034},{"x":58090,"y":58034},
{"x":58023,"y":58033},{"x":58025,"y":58033},{"x":58035,"y":58033},{"x":58037,"y":58033},{"x":58042,"y":58033},{"x":58044,"y":58033},{"x":58045,"y":58033},{"x":58050,"y":58033},{"x":58051,"y":58033},{"x":58052,"y":58033},{"x":58054,"y":58033},{"x":58056,"y":58033},{"x":58062,"y":58033},{"x":58067,"y":58033},{"x":58071,"y":58033},{"x":58073,"y":58033},{"x":58075,"y":58033},{"x":58076,"y":58033},{"x":58078,"y":58033},{"x":58082,"y":58033},{"x":58083,"y":58033},{"x":58086,"y":58033},{"x":58087,"y":58033},
{"x":58015,"y":58032},{"x":58023,"y":58032},{"x":58024,"y":58032},{"x":58025,"y":58032},{"x":58026,"y":58032},{"x":58029,"y":58032},{"x":58031,"y":58032},{"x":58032,"y":58032},{"x":58035,"y":58032},{"x":58036,"y":58032},{"x":58037,"y":58032},{"x":58039,"y":58032},{"x":58040,"y":58032},{"x":58041,"y":58032},{"x":58044,"y":58032},{"x":58045,"y":58032},{"x":58046,"y":58032},{"x":58047,"y":58032},{"x":58048,"y":58032},{"x":58049,"y":58032},{"x":58052,"y":58032},{"x":58053,"y":58032},{"x":58054,"y":58032},{"x":58056,"y":58032},{"x":58058,"y":58032},{"x":58062,"y":58032},{"x":58065,"y":58032},{"x":58071,"y":58032},{"x":58074,"y":58032},{"x":58080,"y":58032},{"x":58081,"y":58032},{"x":58083,"y":58032},{"x":58086,"y":58032},{"x":58087,"y":58032},
{"x":58023,"y":58031},{"x":58024,"y":58031},{"x":58025,"y":58031},{"x":58026,"y":58031},{"x":58029,"y":58031},{"x":58030,"y":58031},{"x":58035,"y":58031},{"x":58037,"y":58031},{"x":58039,"y":58031},{"x":58041,"y":58031},{"x":58043,"y":58031},{"x":58045,"y":58031},{"x":58049,"y":58031},{"x":58050,"y":58031},{"x":58052,"y":58031},{"x":58054,"y":58031},{"x":58056,"y":58031},{"x":58058,"y":58031},{"x":58060,"y":58031},{"x":58062,"y":58031},{"x":58064,"y":58031},{"x":58065,"y":58031},{"x":58067,"y":58031},{"x":58069,"y":58031},{"x":58076,"y":58031},{"x":58078,"y":58031},
{"x":58023,"y":58030},{"x":58024,"y":58030},{"x":58025,"y":58030},{"x":58029,"y":58030},{"x":58032,"y":58030},{"x":58033,"y":58030},{"x":58035,"y":58030},{"x":58037,"y":58030},{"x":58039,"y":58030},{"x":58040,"y":58030},{"x":58041,"y":58030},{"x":58043,"y":58030},{"x":58045,"y":58030},{"x":58046,"y":58030},{"x":58049,"y":58030},{"x":58050,"y":58030},{"x":58052,"y":58030},{"x":58053,"y":58030},{"x":58055,"y":58030},{"x":58056,"y":58030},{"x":58059,"y":58030},{"x":58063,"y":58030},{"x":58065,"y":58030},{"x":58068,"y":58030},{"x":58072,"y":58030},{"x":58074,"y":58030},{"x":58076,"y":58030},{"x":58084,"y":58030},{"x":58086,"y":58030},{"x":58092,"y":58030},
{"x":58023,"y":58029},{"x":58025,"y":58029},{"x":58026,"y":58029},{"x":58027,"y":58029},{"x":58029,"y":58029},{"x":58030,"y":58029},{"x":58031,"y":58029},{"x":58033,"y":58029},{"x":58034,"y":58029},{"x":58036,"y":58029},{"x":58037,"y":58029},{"x":58038,"y":58029},{"x":58039,"y":58029},{"x":58040,"y":58029},{"x":58041,"y":58029},{"x":58043,"y":58029},{"x":58046,"y":58029},{"x":58049,"y":58029},{"x":58050,"y":58029},{"x":58052,"y":58029},{"x":58053,"y":58029},{"x":58055,"y":58029},{"x":58056,"y":58029},{"x":58058,"y":58029},{"x":58060,"y":58029},{"x":58063,"y":58029},{"x":58065,"y":58029},{"x":58072,"y":58029},{"x":58076,"y":58029},{"x":58078,"y":58029},
{"x":58023,"y":58028},{"x":58024,"y":58028},{"x":58028,"y":58028},{"x":58029,"y":58028},{"x":58031,"y":58028},{"x":58034,"y":58028},{"x":58039,"y":58028},{"x":58040,"y":58028},{"x":58043,"y":58028},{"x":58052,"y":58028},{"x":58055,"y":58028},{"x":58056,"y":58028},{"x":58058,"y":58028},{"x":58061,"y":58028},{"x":58063,"y":58028},{"x":58067,"y":58028},{"x":58069,"y":58028},{"x":58071,"y":58028},{"x":58076,"y":58028},{"x":58086,"y":58028},
{"x":58023,"y":58027},{"x":58024,"y":58027},{"x":58028,"y":58027},{"x":58030,"y":58027},{"x":58033,"y":58027},{"x":58034,"y":58027},{"x":58040,"y":58027},{"x":58041,"y":58027},{"x":58043,"y":58027},{"x":58056,"y":58027},{"x":58070,"y":58027},{"x":58091,"y":58027},
{"x":58023,"y":58026},{"x":58024,"y":58026},{"x":58026,"y":58026},{"x":58029,"y":58026},{"x":58030,"y":58026},{"x":58032,"y":58026},{"x":58033,"y":58026},{"x":58034,"y":58026},{"x":58037,"y":58026},{"x":58038,"y":58026},{"x":58039,"y":58026},{"x":58040,"y":58026},{"x":58041,"y":58026},{"x":58042,"y":58026},{"x":58046,"y":58026},{"x":58047,"y":58026},{"x":58052,"y":58026},{"x":58053,"y":58026},{"x":58062,"y":58026},{"x":58076,"y":58026},{"x":58078,"y":58026},{"x":58087,"y":58026},
{"x":58023,"y":58025},{"x":58024,"y":58025},{"x":58026,"y":58025},{"x":58027,"y":58025},{"x":58029,"y":58025},{"x":58031,"y":58025},{"x":58032,"y":58025},{"x":58034,"y":58025},{"x":58037,"y":58025},{"x":58038,"y":58025},{"x":58040,"y":58025},{"x":58042,"y":58025},{"x":58049,"y":58025},{"x":58050,"y":58025},{"x":58073,"y":58025},
{"x":58023,"y":58024},{"x":58024,"y":58024},{"x":58025,"y":58024},{"x":58026,"y":58024},{"x":58027,"y":58024},{"x":58028,"y":58024},{"x":58029,"y":58024},{"x":58031,"y":58024},{"x":58034,"y":58024},{"x":58040,"y":58024},{"x":58063,"y":58024},{"x":58068,"y":58024},{"x":58071,"y":58024},{"x":58072,"y":58024},{"x":58074,"y":58024},{"x":58076,"y":58024},{"x":58079,"y":58024},{"x":58085,"y":58024},
{"x":58015,"y":58023},{"x":58023,"y":58023},{"x":58024,"y":58023},{"x":58025,"y":58023},{"x":58026,"y":58023},{"x":58027,"y":58023},{"x":58028,"y":58023},{"x":58029,"y":58023},{"x":58030,"y":58023},{"x":58031,"y":58023},{"x":58032,"y":58023},{"x":58033,"y":58023},{"x":58034,"y":58023},{"x":58035,"y":58023},{"x":58037,"y":58023},{"x":58039,"y":58023},{"x":58041,"y":58023},{"x":58042,"y":58023},{"x":58043,"y":58023},{"x":58045,"y":58023},{"x":58046,"y":58023},{"x":58047,"y":58023},{"x":58048,"y":58023},{"x":58049,"y":58023},{"x":58053,"y":58023},{"x":58054,"y":58023},{"x":58056,"y":58023},{"x":58059,"y":58023},{"x":58063,"y":58023},{"x":58068,"y":58023},{"x":58071,"y":58023},{"x":58074,"y":58023},{"x":58076,"y":58023},{"x":58082,"y":58023},{"x":58089,"y":58023},
{"x":58063,"y":58020},{"x":58074,"y":58020},{"x":58071,"y":58018},{"x":58052,"y":58017},{"x":58072,"y":58017},
{"x":58015,"y":58015},{"x":58020,"y":58015},{"x":58053,"y":58015}
  ]
},
"hconcat": [
  {
    "width": 466, "height": 422,
    "title": {"text": "Rising", "offset": 1.5},
    "layer": [
      {
        "data": {"name": "obs"},
        "mark": {"type": "rect", "color": "#ccffff", "opacity": 1},
        "encoding": {
          "x": {"field": "start", "type": "quantitative", "scale": {"domain": [58030.21, 58167.27], "nice": false, "zero": false}, "axis": {"title": "Peak MJD", "values": [58040, 58060, 58080, 58100, 58120, 58140, 58160], "format": "d", "labelFontSize": 21.3}},
          "x2": {"field": "end"}
        }
      },
      {
        "data": {"name": "obs"},
        "mark": {"type": "rule", "color": "#4040ff", "strokeWidth": 1.4},
        "encoding": {"x": {"field": "start", "type": "quantitative"}}
      },
      {
        "data": {"name": "obs"},
        "mark": {"type": "rule", "color": "#4040ff", "strokeWidth": 1.4},
        "encoding": {"x": {"field": "end", "type": "quantitative"}}
      },
      {
        "data": {"name": "hq"},
        "mark": {"type": "line", "interpolate": "step-after", "color": "black", "strokeWidth": 4, "strokeJoin": "miter"},
        "encoding": {
          "x": {"field": "x", "type": "quantitative"},
          "y": {"field": "n", "type": "quantitative", "scale": {"domain": [0, 1224], "nice": false, "zero": false}, "axis": {"title": "Unassociated SNe", "values": [0, 200, 400, 600, 800, 1000, 1200], "format": "d", "labelFontSize": 20.7, "titlePadding": 10.5}},
          "order": {"field": "i", "type": "quantitative"}
        }
      },
      {
        "data": {"name": "hr"},
        "mark": {"type": "line", "interpolate": "step-after", "color": "#008000", "strokeWidth": 4, "strokeJoin": "miter"},
        "encoding": {
          "x": {"field": "x", "type": "quantitative"},
          "y": {"field": "n", "type": "quantitative"},
          "order": {"field": "i", "type": "quantitative"}
        }
      },
      {
        "data": {"name": "hp"},
        "mark": {"type": "line", "interpolate": "step-after", "color": "#ff00ff", "strokeWidth": 4, "strokeJoin": "miter"},
        "encoding": {
          "x": {"field": "x", "type": "quantitative"},
          "y": {"field": "n", "type": "quantitative"},
          "order": {"field": "i", "type": "quantitative"}
        }
      },
      {
        "data": {"name": "alert"},
        "mark": {"type": "rule", "color": "#000080", "strokeWidth": 2.5, "strokeDash": [6, 2.6]},
        "encoding": {"x": {"field": "mjd", "type": "quantitative"}}
      },
      {
        "data": {"name": "legL"},
        "mark": {"type": "point", "filled": false, "opacity": 1, "strokeWidth": 3},
        "encoding": {
          "x": {"field": "x", "type": "quantitative"},
          "y": {"field": "y", "type": "quantitative"},
          "color": {"field": "s", "type": "nominal",
            "scale": {"domain": ["IceCube Alert", "Observations", "After Quality Cut", "After Rising Cut", "After Phase Cut"], "range": ["#000080", "#ccffff", "black", "#008000", "#ff00ff"]},
            "legend": {"title": null, "orient": "none", "legendX": 229.7, "legendY": 9.7, "symbolStrokeWidth": 3, "labelOffset": 9.5}},
          "shape": {"field": "s", "type": "nominal",
            "scale": {"domain": ["IceCube Alert", "Observations", "After Quality Cut", "After Rising Cut", "After Phase Cut"], "range": ["M-0.95,0H-0.57M-0.3,0H0.08M0.33,0H0.66M0.75,0H0.93", "M-0.875,-0.275H0.875V-0.175H-0.875V-0.075H0.875V0.025H-0.875V0.125H0.875V0.225H-0.875V0.275H0.875", "M-0.94,-0.34H0.94V0.34H-0.94Z", "M-0.94,-0.34H0.94V0.34H-0.94Z", "M-0.94,-0.34H0.94V0.34H-0.94Z"]},
            "legend": {"title": null, "orient": "none", "legendX": 229.7, "legendY": 9.7, "symbolStrokeWidth": 3, "labelOffset": 9.5}}
        }
      }
    ]
  },
  {
    "width": 466, "height": 422,
    "title": {"text": "Phase", "offset": -4.5},
    "layer": [
      {
        "data": {"name": "bg"},
        "mark": {"type": "circle", "size": 17, "color": "#808080", "opacity": 1},
        "encoding": {
          "x": {"field": "x", "type": "quantitative", "scale": {"domain": [58012.14, 58105.34], "nice": false, "zero": false}, "axis": {"title": "Type-II Best Fit Peak MJD (days)", "values": [58020, 58040, 58060, 58080, 58100], "format": "d", "labelFontSize": 21.3}},
          "y": {"field": "y", "type": "quantitative", "scale": {"domain": [58014.2, 58101.2], "nice": false, "zero": false}, "axis": {"title": "Type-Ibc Best Fit Peak MJD (days)", "values": [58020, 58030, 58040, 58050, 58060, 58070, 58080, 58090, 58100], "format": "d", "labelFontSize": 20.7, "titlePadding": 13.5}}
        }
      },
      {
        "data": {"name": "sig"},
        "mark": {"type": "circle", "size": 17, "color": "#ff0000", "opacity": 1},
        "encoding": {
          "x": {"field": "x", "type": "quantitative"},
          "y": {"field": "y", "type": "quantitative"}
        }
      },
      {
        "data": {"name": "alert"},
        "mark": {"type": "rule", "color": "#000080", "strokeWidth": 4, "strokeDash": [17, 7]},
        "encoding": {"x": {"field": "mjd", "type": "quantitative"}}
      },
      {
        "data": {"name": "alert"},
        "mark": {"type": "rule", "color": "#000080", "strokeWidth": 4, "strokeDash": [17, 7]},
        "encoding": {"y": {"field": "mjd", "type": "quantitative"}}
      },
      {
        "data": {"name": "cut"},
        "mark": {"type": "rule", "color": "black", "strokeWidth": 3.8},
        "encoding": {"x": {"field": "x", "type": "quantitative"}}
      },
      {
        "data": {"name": "cut"},
        "mark": {"type": "rule", "color": "black", "strokeWidth": 3.8},
        "encoding": {"y": {"field": "y", "type": "quantitative"}}
      },
      {
        "data": {"name": "legR"},
        "mark": {"type": "point", "filled": false, "opacity": 1, "strokeWidth": 4},
        "encoding": {
          "x": {"field": "x", "type": "quantitative"},
          "y": {"field": "y", "type": "quantitative"},
          "color": {"field": "s", "type": "nominal",
            "scale": {"domain": ["IceCube Alert", "Cut", "Background", "Signal"], "range": ["#000080", "black", "#808080", "#ff0000"]},
            "legend": {"title": null, "orient": "none", "legendX": 9, "legendY": 9, "symbolStrokeWidth": 4, "labelOffset": 10}},
          "shape": {"field": "s", "type": "nominal",
            "scale": {"domain": ["IceCube Alert", "Cut", "Background", "Signal"], "range": ["M-1,0H-0.18M0.16,0H1", "M-1,0H1", "M0.01,0L0.007,0.007L0,0.01L-0.007,0.007L-0.01,0L-0.007,-0.007L0,-0.01L0.007,-0.007Z", "M0.01,0L0.007,0.007L0,0.01L-0.007,0.007L-0.01,0L-0.007,-0.007L0,-0.01L0.007,-0.007Z"]},
            "legend": {"title": null, "orient": "none", "legendX": 9, "legendY": 9, "symbolStrokeWidth": 4, "labelOffset": 10}}
        }
      }
    ]
  }
]
}
